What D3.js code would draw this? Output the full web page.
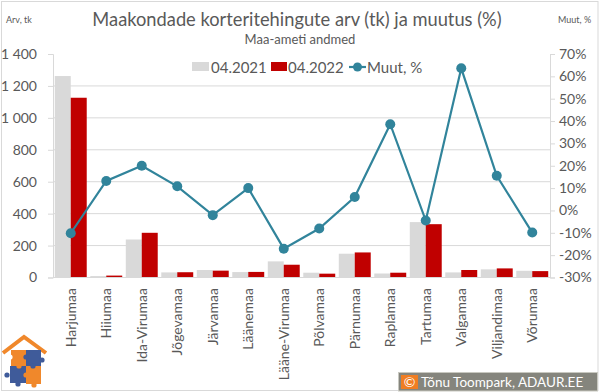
<!DOCTYPE html>
<html>
<head>
<meta charset="utf-8">
<script src="https://cdn.jsdelivr.net/npm/d3@7"></script>
<style>
  html, body { margin: 0; padding: 0; background: #fff; }
  svg { display: block; font-family: Lato, "Noto Sans", sans-serif; }
</style>
</head>
<body>
<div id="chart"></div>
<script>
// data
const counties = ["Harjumaa", "Hiiumaa", "Ida-Virumaa", "Jõgevamaa", "Järvamaa", "Läänemaa",
  "Lääne-Virumaa", "Põlvamaa", "Pärnumaa", "Raplamaa", "Tartumaa", "Valgamaa", "Viljandimaa", "Võrumaa"];
const deals2021 = [1262, 9, 238, 32, 47, 34, 101, 30, 149, 25, 347, 32, 51, 42];
const deals2022 = [1126, 12, 280, 33, 43, 35, 80, 24, 157, 30, 334, 47, 57, 40];
const change = [-0.102, 0.132, 0.200, 0.108, -0.021, 0.100, -0.171, -0.081, 0.060, 0.386, -0.045, 0.636, 0.155, -0.099];
const leftTicks = [0, 200, 400, 600, 800, 1000, 1200, 1400];
const rightTicks = [-0.3, -0.2, -0.1, 0, 0.1, 0.2, 0.3, 0.4, 0.5, 0.6, 0.7];
const seriesNames = ["04.2021", "04.2022", "Muut, %"];

const W = 600, H = 392;
const plot = { left: 53, right: 550, top: 54, bottom: 277.5 };
const textCol = "#595959";
const gridCol = "#d9d9d9";
const grayBar = "#d9d9d9", redBar = "#c00000", lineCol = "#31849b";

const loc = d3.formatLocale({ decimal: ",", thousands: " ", grouping: [3], currency: ["", ""], minus: "-" });
const fmtNum = loc.format(",");
const fmtPct = loc.format(".0%");

const svg = d3.select("#chart").append("svg")
  .attr("width", W).attr("height", H);

// outer border
svg.append("rect")
  .attr("x", 1.5).attr("y", 1.5).attr("width", 596.5).attr("height", 389)
  .attr("fill", "#fff").attr("stroke", gridCol);

const x = d3.scaleBand().domain(counties).range([plot.left, plot.right])
  .paddingInner(0.1).paddingOuter(0.05);
const xs = d3.scaleBand().domain([0, 1]).range([0, x.bandwidth()]);
const yL = d3.scaleLinear().domain([0, 1400]).range([plot.bottom, plot.top]);
const yR = d3.scaleLinear().domain([-0.3, 0.7]).range([plot.bottom, plot.top]);

// gridlines
svg.append("g").selectAll("line")
  .data(leftTicks.filter(d => d > 0 && d < 1400))
  .join("line")
  .attr("x1", plot.left).attr("x2", plot.right)
  .attr("y1", d => yL(d)).attr("y2", d => yL(d))
  .attr("stroke", gridCol).attr("stroke-width", 1);

// left axis
const gL = svg.append("g").attr("transform", `translate(${plot.left},0)`)
  .call(d3.axisLeft(yL).tickValues(leftTicks).tickSize(5).tickPadding(11).tickFormat(fmtNum));
// right axis
const gR = svg.append("g").attr("transform", `translate(${plot.right},0)`)
  .call(d3.axisRight(yR).tickValues(rightTicks).tickSize(5).tickPadding(4).tickFormat(fmtPct));
[gL, gR].forEach(g => {
  g.select(".domain").attr("stroke", gridCol);
  g.selectAll(".tick line").attr("stroke", gridCol);
  g.selectAll(".tick text").attr("fill", textCol)
    .style("font-family", "Lato, 'Noto Sans', sans-serif").style("font-size", "14px");
});

// bars
const barData = counties.map((c, i) => ({ c, v: [deals2021[i], deals2022[i]] }));
const groups = svg.append("g").selectAll("g")
  .data(barData).join("g")
  .attr("transform", d => `translate(${x(d.c)},0)`);
groups.selectAll("rect")
  .data(d => d.v.map((v, k) => ({ v, k })))
  .join("rect")
  .attr("x", d => xs(d.k))
  .attr("width", xs.bandwidth())
  .attr("y", d => yL(d.v))
  .attr("height", d => yL(0) - yL(d.v))
  .attr("fill", d => d.k === 0 ? grayBar : redBar);

// bottom axis line
svg.append("line")
  .attr("x1", plot.left).attr("x2", plot.right)
  .attr("y1", plot.bottom).attr("y2", plot.bottom)
  .attr("stroke", gridCol);

// category labels
svg.append("g").selectAll("text")
  .data(counties).join("text")
  .attr("transform", d => `translate(${x(d) + x.bandwidth() / 2},288) rotate(-90)`)
  .attr("text-anchor", "end").attr("dy", "0.35em")
  .attr("fill", textCol).style("font-size", "14px")
  .text(d => d);

// change line
const cx = d => x(d) + x.bandwidth() / 2;
const linePts = counties.map((c, i) => [cx(c), yR(change[i])]);
svg.append("path")
  .attr("d", d3.line()(linePts))
  .attr("fill", "none").attr("stroke", lineCol).attr("stroke-width", 2.2);
svg.append("g").selectAll("circle")
  .data(linePts).join("circle")
  .attr("cx", d => d[0]).attr("cy", d => d[1]).attr("r", 5)
  .attr("fill", lineCol);

// titles
svg.append("text").attr("x", 297).attr("y", 26).attr("text-anchor", "middle")
  .attr("fill", textCol).style("font-size", "18.3px")
  .text("Maakondade korteritehingute arv (tk) ja muutus (%)");
svg.append("text").attr("x", 300).attr("y", 44).attr("text-anchor", "middle")
  .attr("fill", textCol).style("font-size", "13px")
  .text("Maa-ameti andmed");
svg.append("text").attr("x", 6).attr("y", 23)
  .attr("fill", textCol).style("font-size", "9px").text("Arv, tk");
svg.append("text").attr("x", 558).attr("y", 23)
  .attr("fill", textCol).style("font-size", "9px").text("Muut, %");

// legend
const leg = svg.append("g").attr("transform", "translate(0,67)");
leg.append("rect").attr("x", 192).attr("y", -5).attr("width", 17).attr("height", 9).attr("fill", grayBar);
leg.append("text").attr("x", 211).attr("y", 5.5).attr("fill", textCol).style("font-size", "15px").text(seriesNames[0]);
leg.append("rect").attr("x", 271).attr("y", -5).attr("width", 16).attr("height", 9).attr("fill", redBar);
leg.append("text").attr("x", 288).attr("y", 5.5).attr("fill", textCol).style("font-size", "15px").text(seriesNames[1]);
leg.append("line").attr("x1", 349).attr("x2", 366).attr("y1", 0).attr("y2", 0)
  .attr("stroke", lineCol).attr("stroke-width", 2.2);
leg.append("circle").attr("cx", 357.5).attr("cy", 0).attr("r", 4.5).attr("fill", lineCol);
leg.append("text").attr("x", 367).attr("y", 5.5).attr("fill", textCol).style("font-size", "15px").text(seriesNames[2]);

// logo
const orange = "#f0882b", blue = "#3f5b9a";
const logo = svg.append("g");
logo.append("polyline").attr("points", "3,353 24,337 46,353")
  .attr("fill", "none").attr("stroke", orange).attr("stroke-width", 4).attr("stroke-linejoin", "miter");
logo.append("rect").attr("x", 11).attr("y", 350).attr("width", 15).attr("height", 16).attr("fill", orange);
logo.append("rect").attr("x", 26).attr("y", 350).attr("width", 15).attr("height", 16).attr("fill", blue);
logo.append("rect").attr("x", 10).attr("y", 366).attr("width", 16).attr("height", 17).attr("fill", blue);
logo.append("rect").attr("x", 26).attr("y", 366).attr("width", 15).attr("height", 18).attr("fill", orange);
[[26, 357, blue], [19, 366, orange], [33, 366, blue], [26, 375, orange], [10, 357, "#fff"], [42, 360, blue],
 [7, 375, blue], [34, 385, orange], [18, 384, blue]]
  .forEach(([a, b, col]) => logo.append("circle").attr("cx", a).attr("cy", b).attr("r", 2.6).attr("fill", col));

// copyright box
const cp = svg.append("g");
cp.append("rect").attr("x", 398.5).attr("y", 372.5).attr("width", 199).attr("height", 18.5)
  .attr("fill", "#85857d").attr("stroke", "#c8c8c0");
cp.append("rect").attr("x", 401).attr("y", 375).attr("width", 17).attr("height", 14).attr("fill", "#f07d22");
cp.append("text").attr("x", 409.5).attr("y", 387).attr("text-anchor", "middle")
  .attr("fill", "#fff").style("font-size", "14px").text("©");
cp.append("text").attr("x", 421).attr("y", 387)
  .attr("fill", "#fff").style("font-size", "13.5px").text("Tõnu Toompark, ADAUR.EE");
</script>
</body>
</html>
